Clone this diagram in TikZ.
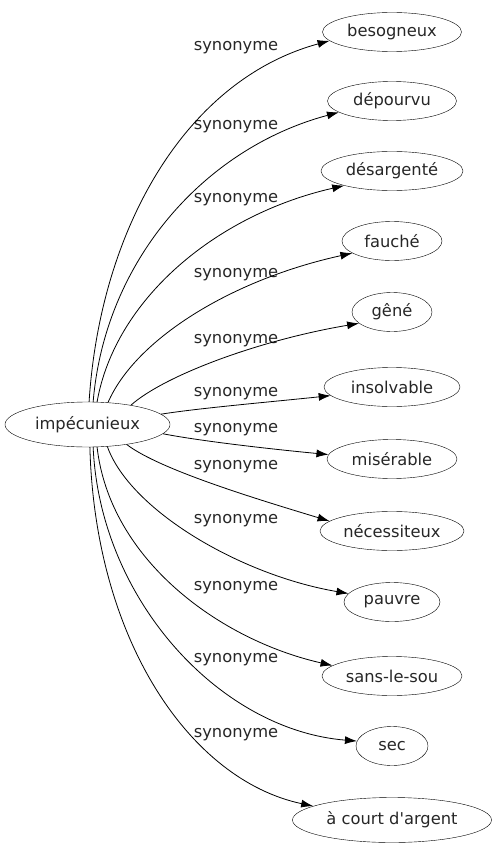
\documentclass[tikz,border=0pt]{standalone}
\usepackage{fontspec}
\setmainfont{DejaVu Sans}
\usetikzlibrary{shapes.geometric,arrows.meta}
\begin{document}
\begin{tikzpicture}[x=1pt,y=-1pt,
  word/.style={draw,ellipse,inner sep=0pt,font=\fontsize{16.3}{19}\selectfont,text=black!85},
  lbl/.style={font=\fontsize{16.3}{19}\selectfont,text=black!85,inner sep=0pt},
  edge/.style={-{Latex[length=12pt,width=8pt]},line width=0.8pt}]
\useasboundingbox (0,0) rectangle (496,851);
\node[word,minimum width=165,minimum height=45] (src) at (87.5,424.5) {impécunieux};
\node[word,minimum width=139,minimum height=39] (t1) at (392,32) {besogneux};
\node[word,minimum width=129,minimum height=39] (t2) at (392,101) {dépourvu};
\node[word,minimum width=142,minimum height=39] (t3) at (392,171) {désargenté};
\node[word,minimum width=100,minimum height=39] (t4) at (392,241) {fauché};
\node[word,minimum width=80,minimum height=39] (t5) at (392,312) {gêné};
\node[word,minimum width=136,minimum height=39] (t6) at (392,387) {insolvable};
\node[word,minimum width=130,minimum height=39] (t7) at (392,459) {misérable};
\node[word,minimum width=144,minimum height=39] (t8) at (392,531) {nécessiteux};
\node[word,minimum width=96,minimum height=39] (t9) at (392,602) {pauvre};
\node[word,minimum width=140,minimum height=39] (t10) at (392,676) {sans-le-sou};
\node[word,minimum width=72,minimum height=39] (t11) at (392,746) {sec};
\node[word,minimum width=199,minimum height=45] (t12) at (392,820) {à court d\textquotesingle argent};
\node[lbl] (l1) at (236,48) {synonyme};
\node[lbl] (l2) at (236,127) {synonyme};
\node[lbl] (l3) at (236,200) {synonyme};
\node[lbl] (l4) at (236,275) {synonyme};
\node[lbl] (l5) at (236,341) {synonyme};
\node[lbl] (l6) at (236,394) {synonyme};
\node[lbl] (l7) at (236,430) {synonyme};
\node[lbl] (l8) at (236,467) {synonyme};
\node[lbl] (l9) at (236,521) {synonyme};
\node[lbl] (l10) at (236,588) {synonyme};
\node[lbl] (l11) at (236,660) {synonyme};
\node[lbl] (l12) at (236,735) {synonyme};
\draw[edge] (src.86) .. controls (100,230) and (185,80) .. (t1.188);
\draw[edge] (src.76) .. controls (105,260) and (205,148) .. (t2.192);
\draw[edge] (src.67) .. controls (115,300) and (215,215) .. (t3.197);
\draw[edge] (src.47) .. controls (135,340) and (230,280) .. (t4.197);
\draw[edge] (src.24) .. controls (165,375) and (260,340) .. (t5.199);
\draw[edge] (src.8) .. controls (200,408) and (270,402) .. (t6.188);
\draw[edge] (src.-7) .. controls (200,441) and (270,449) .. (t7.176);
\draw[edge] (src.-27) .. controls (160,470) and (260,500) .. (t8.171);
\draw[edge] (src.-48) .. controls (130,510) and (240,575) .. (t9.169);
\draw[edge] (src.-67) .. controls (110,560) and (220,640) .. (t10.170);
\draw[edge] (src.-76) .. controls (100,600) and (220,730) .. (t11.172);
\draw[edge] (src.-84) .. controls (95,640) and (190,780) .. (t12.170);
\end{tikzpicture}
\end{document}
